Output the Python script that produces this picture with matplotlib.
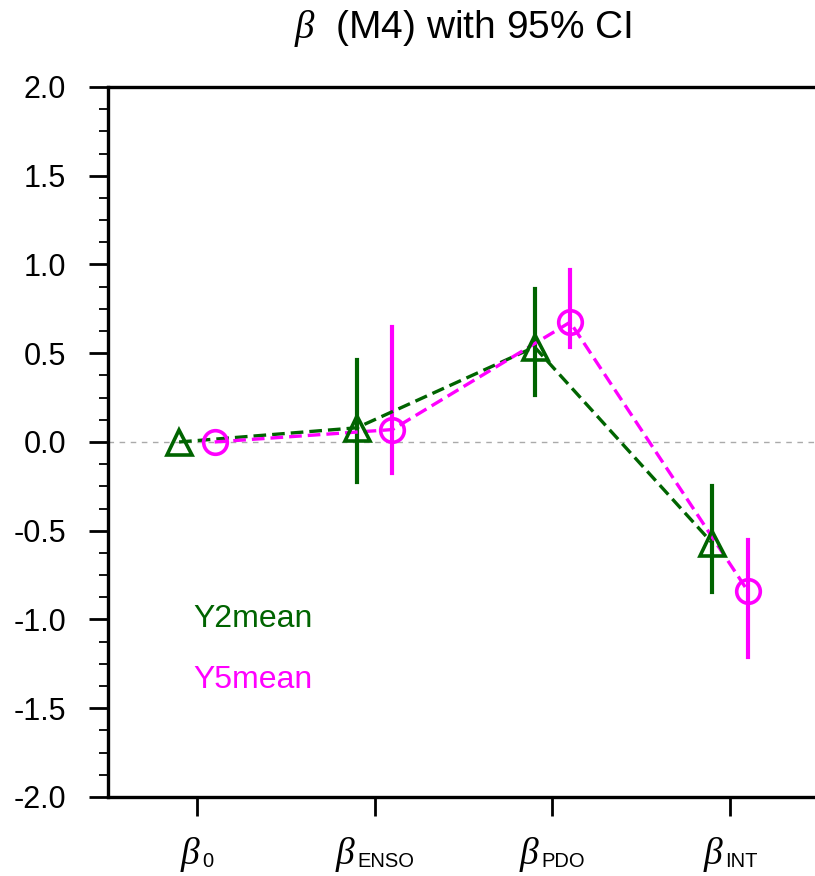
import numpy as np
import matplotlib
matplotlib.use("Agg")
import matplotlib.pyplot as plt
from matplotlib.ticker import MultipleLocator
from matplotlib.transforms import ScaledTranslation

plt.rcParams['font.family'] = ['Liberation Sans', 'DejaVu Sans']
plt.rcParams['mathtext.fontset'] = 'custom'
plt.rcParams['mathtext.rm'] = 'Liberation Sans'
plt.rcParams['mathtext.it'] = 'Liberation Serif:italic'

# coefficient names and estimates with 95% CI
terms = ['0', 'ENSO', 'PDO', 'INT']
y2_mean = [0.0, 0.08, 0.535, -0.57]
y2_lo = [0.0, -0.225, 0.265, -0.845]
y2_hi = [0.0, 0.46, 0.86, -0.25]
y5_mean = [0.0, 0.07, 0.675, -0.84]
y5_lo = [0.0, -0.175, 0.535, -1.21]
y5_hi = [0.0, 0.65, 0.97, -0.55]

green = '#006400'
magenta = '#ff00ff'

fig = plt.figure(figsize=(8.15, 8.76), dpi=100)
ax = fig.add_axes([0.1325, 0.0902, 0.8724, 0.8105])

x = np.arange(len(terms))
off = 0.1

ax.axhline(0, color='#aaaaaa', lw=1.0, ls=(0, (4, 4)), zorder=1)

# error bars (skip the intercept, no CI there)
for i in range(1, len(terms)):
    ax.plot([x[i] - off] * 2, [y2_lo[i], y2_hi[i]], color=green, lw=3.0, zorder=2)
    ax.plot([x[i] + off] * 2, [y5_lo[i], y5_hi[i]], color=magenta, lw=3.0, zorder=2)

dash = (0, (3.8, 1.8))
ax.plot(x - off, y2_mean, color=green, lw=2.4, ls=dash, zorder=3)
ax.plot(x + off, y5_mean, color=magenta, lw=2.4, ls=dash, zorder=3)
ax.plot(x - off, y2_mean, ls='none', marker='^', ms=18, mfc='none', mec=green, mew=2.6, zorder=4)
ax.plot(x + off, y5_mean, ls='none', marker='o', ms=17, mfc='none', mec=magenta, mew=2.6, zorder=4)

ax.set_xlim(-0.5, 3.5)
ax.set_ylim(-2.0, 2.0)

ax.set_xticks(x)
ax.set_xticklabels([])
ax.yaxis.set_major_locator(MultipleLocator(0.5))
ax.yaxis.set_minor_locator(MultipleLocator(0.125))
ax.set_yticklabels(['%.1f' % v for v in ax.get_yticks()])
ax.tick_params(axis='y', which='major', direction='out', length=14, width=2, labelsize=22, pad=16)
ax.tick_params(axis='y', which='minor', direction='out', length=6.5, width=1.3)
ax.tick_params(axis='x', which='major', direction='out', length=14, width=2)

for s in ax.spines.values():
    s.set_linewidth(2.4)

# x labels: big italic beta with a small upright subscript, centred on the tick
renderer = fig.canvas.get_renderer()
trans = ax.get_xaxis_transform()
label_y = -0.095
gap = 1
for xi, t in zip(x, terms):
    tb = ax.text(xi, label_y, r'$\mathit{\beta}$', fontsize=27, transform=trans,
                 ha='left', va='baseline', clip_on=False)
    ts = ax.text(xi, label_y, t, fontsize=14.5, transform=trans,
                 ha='left', va='baseline', clip_on=False)
    wb = tb.get_window_extent(renderer).width
    ws = ts.get_window_extent(renderer).width
    start = -(wb + gap + ws) / 2
    tb.set_transform(trans + ScaledTranslation(start / fig.dpi, 0, fig.dpi_scale_trans))
    ts.set_transform(trans + ScaledTranslation((start + wb + gap) / fig.dpi, -3 / fig.dpi,
                                               fig.dpi_scale_trans))

ax.text(-0.022, -1.0, 'Y2mean', color=green, fontsize=23, va='center', ha='left')
ax.text(-0.022, -1.34, 'Y5mean', color=magenta, fontsize=23, va='center', ha='left')

fig.text(0.568, 0.968, r'$\mathit{\beta}$  (M4) with 95% CI', fontsize=28, ha='center', va='center')

fig.savefig('out.png', dpi=100)
